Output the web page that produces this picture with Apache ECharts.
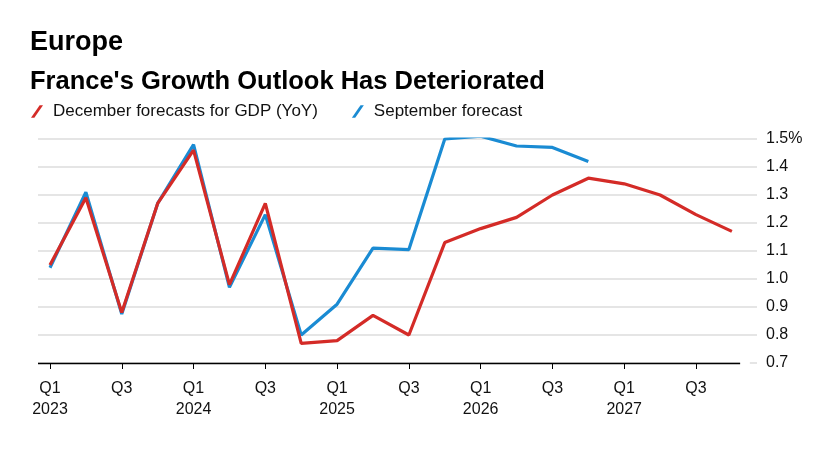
<!DOCTYPE html>
<html>
<head>
<meta charset="utf-8">
<script src="https://cdn.jsdelivr.net/npm/echarts@6/dist/echarts.min.js"></script>
<style>
html,body{margin:0;padding:0;background:#fff;}
#chart{width:833px;height:456px;}
</style>
</head>
<body>
<div id="chart"></div>
<script>
// Quarters Q1 2023 .. Q4 2027
var quarters = ['Q1 2023','Q2 2023','Q3 2023','Q4 2023','Q1 2024','Q2 2024','Q3 2024','Q4 2024',
  'Q1 2025','Q2 2025','Q3 2025','Q4 2025','Q1 2026','Q2 2026','Q3 2026','Q4 2026',
  'Q1 2027','Q2 2027','Q3 2027','Q4 2027'];
var decemberForecast = [1.05,1.29,0.88,1.27,1.46,0.98,1.27,0.77,0.78,0.87,0.80,1.13,1.18,1.22,1.30,1.36,1.34,1.30,1.23,1.17];
var septemberForecast = [1.04,1.31,0.875,1.27,1.48,0.97,1.23,0.80,0.91,1.11,1.105,1.50,1.51,1.475,1.47,1.42];
var tickIndices = [0,2,4,6,8,10,12,14,16,18];
var tickLabels = ['Q1\n2023','Q3','Q1\n2024','Q3','Q1\n2025','Q3','Q1\n2026','Q3','Q1\n2027','Q3'];

var RED = '#d42b27';
var BLUE = '#1a8bd3';
var FONT = '"Liberation Sans", Arial, sans-serif';

function pairs(arr){ return arr.map(function(v,i){ return [i,v]; }); }

var chart = echarts.init(document.getElementById('chart'), null, {renderer:'canvas'});
var slash = 'path://M0,13 L9,0 L12.5,0 L3.5,13 Z';
var option = {
  animation: false,
  backgroundColor: '#fff',
  textStyle: {fontFamily: FONT},
  title: [
    {text: 'Europe', left: 25, top: 24, textStyle: {fontFamily: FONT, fontSize: 27, fontWeight: 'bold', color: '#000'}},
    {text: "France's Growth Outlook Has Deteriorated", left: 25, top: 64, textStyle: {fontFamily: FONT, fontSize: 25.5, fontWeight: 'bold', color: '#000'}}
  ],
  legend: {
    left: 26, top: 98,
    itemWidth: 12, itemHeight: 13, itemGap: 34,
    textStyle: {fontFamily: FONT, fontSize: 17, color: '#111', padding: [0,0,0,5]},
    data: [
      {name: 'December forecasts for GDP (YoY)', icon: slash, itemStyle: {color: RED}},
      {name: 'September forecast', icon: slash, itemStyle: {color: BLUE}}
    ]
  },
  grid: {left: 38, right: 76, top: 139, bottom: 93, containLabel: false},
  xAxis: {
    type: 'value', min: -0.334, max: 19.70,
    splitLine: {show: false},
    axisLine: {show: false},
    axisTick: {show: true, customValues: tickIndices, length: 6, lineStyle: {color: '#000', width: 1}},
    axisLabel: {
      customValues: tickIndices, color: '#111', fontFamily: FONT, fontSize: 16, lineHeight: 21, margin: 15,
      formatter: function(v){ var k = tickIndices.indexOf(Math.round(v)); return k >= 0 ? tickLabels[k] : ''; }
    }
  },
  yAxis: {
    type: 'value', position: 'right', min: 0.7, max: 1.5, interval: 0.1,
    axisLine: {show: false},
    axisTick: {show: false},
    splitLine: {show: true, lineStyle: {color: '#dcdcdc', width: 1.5}},
    axisLabel: {
      color: '#111', fontFamily: FONT, fontSize: 16, margin: 9,
      formatter: function(v){ var s = v.toFixed(1); return Math.abs(v-1.5) < 1e-6 ? s + '%' : s; }
    }
  },
  series: [
    {
      name: 'September forecast', type: 'line', data: pairs(septemberForecast),
      showSymbol: false, symbol: 'none', z: 2,
      lineStyle: {color: BLUE, width: 3.2}, itemStyle: {color: BLUE}
    },
    {
      name: 'December forecasts for GDP (YoY)', type: 'line', data: pairs(decemberForecast),
      showSymbol: false, symbol: 'none', z: 3,
      lineStyle: {color: RED, width: 3.2}, itemStyle: {color: RED},
      markLine: {
        silent: true, symbol: 'none', label: {show: false},
        data: [
          [{coord: [19.23, 0.7], lineStyle: {color: '#fff', width: 3, type: 'solid'}}, {coord: [19.50, 0.7]}],
          [{coord: [-0.334, 0.7], lineStyle: {color: '#000', width: 1.3, type: 'solid'}}, {coord: [19.23, 0.7]}]
        ]
      }
    }
  ]
};
chart.setOption(option);
</script>
</body>
</html>
